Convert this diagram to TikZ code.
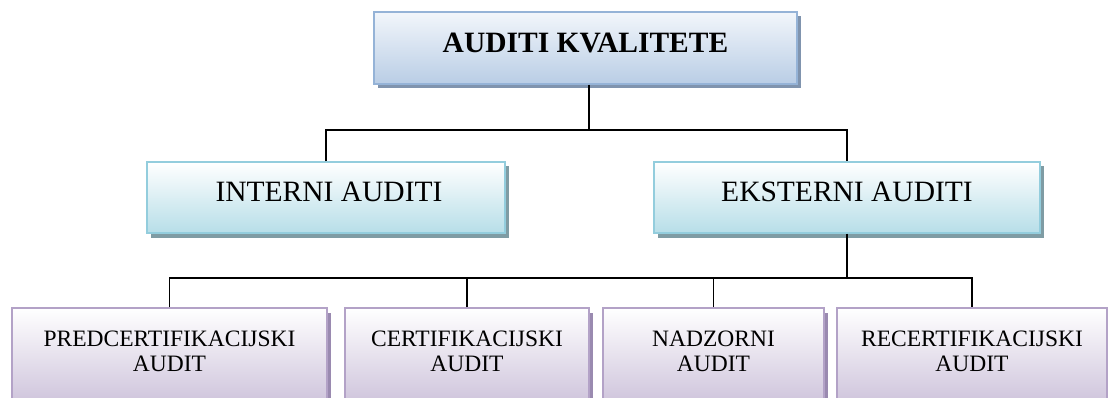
\documentclass[tikz,border=0pt]{standalone}
\usepackage{fontspec}
\setmainfont{Liberation Serif}
\usetikzlibrary{shadows}
\definecolor{topborder}{HTML}{95B3D7}
\definecolor{toptop}{HTML}{F2F6FB}
\definecolor{topbot}{HTML}{B9CDE5}
\definecolor{topshadow}{HTML}{8094AE}
\definecolor{midborder}{HTML}{93CDDD}
\definecolor{midtop}{HTML}{FFFFFF}
\definecolor{midbot}{HTML}{B7DEE8}
\definecolor{midshadow}{HTML}{7F9CA4}
\definecolor{lowborder}{HTML}{B3A2C7}
\definecolor{lowtop}{HTML}{FFFFFF}
\definecolor{lowbot}{HTML}{CCC1DA}
\definecolor{lowshadow}{HTML}{9A8AB0}
\tikzset{
  boxbase/.style={rectangle, inner sep=0pt, line width=1.4pt, shading=axis},
  topbox/.style={boxbase, draw=topborder, top color=toptop, bottom color=topbot,
    drop shadow={shadow xshift=3.5pt, shadow yshift=-4.5pt, fill=topshadow, opacity=1}},
  midbox/.style={boxbase, draw=midborder, top color=midtop, bottom color=midbot,
    drop shadow={shadow xshift=3.5pt, shadow yshift=-4.5pt, fill=midshadow, opacity=1}},
  lowbox/.style={boxbase, draw=lowborder, top color=lowtop, bottom color=lowbot,
    drop shadow={shadow xshift=3.5pt, shadow yshift=-4.5pt, fill=lowshadow, opacity=1}},
  toptxt/.style={font=\fontsize{29.5}{31}\selectfont\bfseries, inner sep=0pt},
  midtxt/.style={font=\fontsize{29.5}{31}\selectfont, inner sep=0pt},
  lowtxt/.style={font=\fontsize{23.5}{25}\selectfont, align=center, inner sep=0pt},
  conn/.style={line width=1.3pt, black}
}
\begin{document}
\begin{tikzpicture}[x=1pt, y=-1pt]
\useasboundingbox (0,0) rectangle (1108,398);
\clip (0,0) rectangle (1108,398);
% boxes
\node[topbox, minimum width=423pt, minimum height=72pt] (top) at (585.5,48) {};
\node[midbox, minimum width=358pt, minimum height=71pt] (int) at (326,197.5) {};
\node[midbox, minimum width=386pt, minimum height=71pt] (eks) at (847,197.5) {};
\node[lowbox, minimum width=315pt, minimum height=100pt] (b1) at (169.5,358) {};
\node[lowbox, minimum width=244pt, minimum height=100pt] (b2) at (467,358) {};
\node[lowbox, minimum width=221pt, minimum height=100pt] (b3) at (713.5,358) {};
\node[lowbox, minimum width=270pt, minimum height=100pt] (b4) at (972,358) {};
% texts
\node[toptxt] (ttop) at (585.5,42.5) {AUDITI KVALITETE};
\node[midtxt] (tint) at (329,192) {INTERNI AUDITI};
\node[midtxt] (teks) at (847,192) {EKSTERNI AUDITI};
\node[lowtxt] (tb1) at (169.5,351) {PREDCERTIFIKACIJSKI\\AUDIT};
\node[lowtxt] (tb2) at (467,351) {CERTIFIKACIJSKI\\AUDIT};
\node[lowtxt] (tb3) at (713.5,351) {NADZORNI\\AUDIT};
\node[lowtxt] (tb4) at (972,351) {RECERTIFIKACIJSKI\\AUDIT};
% connectors
\coordinate (j1) at (589,130);
\draw[conn] (top.south -| j1) -- (j1);
\draw[conn] (int.north) |- (j1) -| (eks.north);
\coordinate (j2) at (847,278);
\draw[conn] (eks.south) -- (j2);
\draw[conn] (b1.north) |- (j2) -| (b4.north);
\draw[conn] (b2.north) -- (b2.north |- j2);
\draw[conn] (b3.north) -- (b3.north |- j2);
\end{tikzpicture}
\end{document}
